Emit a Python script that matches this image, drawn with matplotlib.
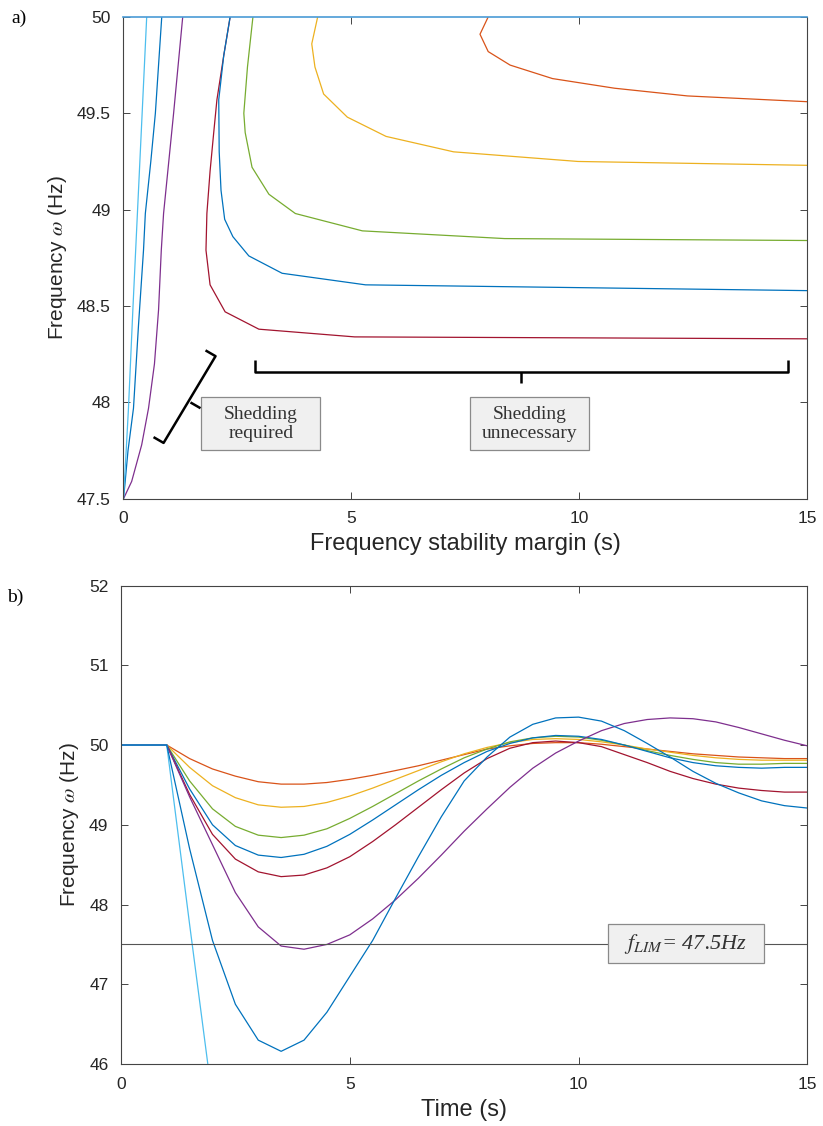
import matplotlib
matplotlib.use('Agg')
import matplotlib.pyplot as plt
from matplotlib.patches import Rectangle

plt.rcParams['font.family'] = ['Liberation Sans', 'DejaVu Sans']
plt.rcParams['mathtext.fontset'] = 'stix'

# MATLAB default colours
c_orange = '#D95319'
c_yellow = '#EDB120'
c_green = '#77AC30'
c_blue = '#0072BD'
c_red = '#A2142F'
c_purple = '#7E2F8E'
c_lblue = '#4DBEEE'

# ---- panel a: frequency vs stability margin ----
a_lblue_x = [0, 0.06, 0.11, 0.21, 0.31, 0.41, 0.51]
a_lblue_y = [47.5, 47.75, 47.97, 48.5, 49.0, 49.5, 50.0]
a_blue1_x = [0, 0.03, 0.1, 0.22, 0.33, 0.44, 0.48, 0.6, 0.7, 0.84]
a_blue1_y = [47.5, 47.57, 47.75, 47.97, 48.4, 48.79, 48.98, 49.25, 49.5, 50.0]
a_purple_x = [0, 0.18, 0.4, 0.55, 0.68, 0.77, 0.83, 0.88, 1.1, 1.3]
a_purple_y = [47.5, 47.59, 47.78, 47.97, 48.2, 48.48, 48.79, 48.98, 49.5, 50.0]
a_red_x = [2.34, 2.2, 2.05, 1.98, 1.9, 1.83, 1.81, 1.9, 2.23, 2.97, 5.07, 15]
a_red_y = [50, 49.8, 49.57, 49.4, 49.2, 48.98, 48.79, 48.61, 48.47, 48.38, 48.34, 48.33]
a_blue2_x = [2.34, 2.2, 2.09, 2.1, 2.14, 2.22, 2.4, 2.75, 3.48, 5.31, 15]
a_blue2_y = [50, 49.8, 49.57, 49.3, 49.1, 48.95, 48.86, 48.76, 48.67, 48.61, 48.58]
a_green_x = [2.84, 2.72, 2.64, 2.67, 2.82, 3.19, 3.77, 5.24, 8.36, 15]
a_green_y = [50, 49.74, 49.5, 49.4, 49.22, 49.08, 48.98, 48.89, 48.85, 48.84]
a_yellow_x = [4.26, 4.13, 4.2, 4.39, 4.91, 5.76, 7.24, 9.97, 15]
a_yellow_y = [50, 49.86, 49.74, 49.6, 49.48, 49.38, 49.3, 49.25, 49.23]
a_orange_x = [8.0, 7.82, 8.0, 8.48, 9.41, 10.77, 12.37, 15]
a_orange_y = [50, 49.91, 49.82, 49.75, 49.68, 49.63, 49.59, 49.56]

# ---- panel b: frequency vs time ----
t = [0, 1, 1.5, 2, 2.5, 3, 3.5, 4, 4.5, 5, 5.5, 6, 6.5, 7, 7.5, 8,
     8.5, 9, 9.5, 10, 10.5, 11, 11.5, 12, 12.5, 13, 13.5, 14, 14.5, 15]
f_orange = [50, 50, 49.83, 49.7, 49.61, 49.54, 49.51, 49.51, 49.53, 49.57, 49.62, 49.68, 49.74, 49.81, 49.88,
            49.95, 49.99, 50.02, 50.03, 50.03, 50.01, 49.98, 49.95, 49.92, 49.89, 49.87, 49.85, 49.84, 49.83, 49.83]
f_yellow = [50, 50, 49.72, 49.49, 49.34, 49.25, 49.22, 49.23, 49.28, 49.36, 49.46, 49.57, 49.68, 49.79, 49.89,
            49.97, 50.03, 50.07, 50.08, 50.07, 50.04, 50.0, 49.95, 49.91, 49.87, 49.84, 49.82, 49.81, 49.81, 49.81]
f_green = [50, 50, 49.55, 49.2, 48.98, 48.87, 48.84, 48.87, 48.95, 49.08, 49.23, 49.39, 49.55, 49.7, 49.84,
           49.95, 50.04, 50.09, 50.11, 50.1, 50.06, 50.0, 49.93, 49.87, 49.82, 49.78, 49.76, 49.76, 49.77, 49.77]
f_blue = [50, 50, 49.45, 49.0, 48.74, 48.62, 48.59, 48.63, 48.73, 48.88, 49.06, 49.25, 49.44, 49.62, 49.78,
          49.92, 50.02, 50.09, 50.12, 50.11, 50.07, 50.0, 49.92, 49.84, 49.78, 49.74, 49.72, 49.71, 49.72, 49.72]
f_red = [50, 50, 49.38, 48.88, 48.57, 48.41, 48.35, 48.37, 48.46, 48.6, 48.79, 49.0, 49.22, 49.44, 49.65,
         49.83, 49.96, 50.03, 50.05, 50.03, 49.98, 49.88, 49.78, 49.67, 49.58, 49.51, 49.46, 49.43, 49.41, 49.41]
f_purple = [50, 50, 49.35, 48.75, 48.15, 47.72, 47.48, 47.44, 47.5, 47.62, 47.82, 48.06, 48.33, 48.62, 48.92,
            49.2, 49.47, 49.71, 49.9, 50.05, 50.18, 50.27, 50.32, 50.34, 50.33, 50.29, 50.22, 50.14, 50.06, 49.99]
f_deep = [50, 50, 48.7, 47.55, 46.75, 46.3, 46.16, 46.3, 46.65, 47.1, 47.55, 48.08, 48.6, 49.1, 49.55,
          49.85, 50.1, 50.26, 50.34, 50.35, 50.3, 50.18, 50.02, 49.85, 49.67, 49.52, 49.4, 49.3, 49.24, 49.21]
t_lblue = [0, 1, 1.5, 2]
f_lblue = [50, 50, 47.75, 45.55]
f_lim = 47.5

fig = plt.figure(figsize=(8.23, 11.26), dpi=100)
axa = fig.add_axes([0.150, 0.557, 0.831, 0.428])
axb = fig.add_axes([0.147, 0.055, 0.834, 0.425])

lw = 0.9
axa.plot(a_orange_x, a_orange_y, color=c_orange, lw=lw)
axa.plot(a_yellow_x, a_yellow_y, color=c_yellow, lw=lw)
axa.plot(a_green_x, a_green_y, color=c_green, lw=lw)
axa.plot(a_red_x, a_red_y, color=c_red, lw=lw)
axa.plot(a_blue2_x, a_blue2_y, color=c_blue, lw=lw)
axa.plot(a_purple_x, a_purple_y, color=c_purple, lw=lw)
axa.plot(a_blue1_x, a_blue1_y, color=c_blue, lw=lw)
axa.plot(a_lblue_x, a_lblue_y, color=c_lblue, lw=lw)
axa.set_xlim(0, 15)
axa.set_ylim(47.5, 50)
axa.set_xticks([0, 5, 10, 15])
axa.set_yticks([47.5, 48, 48.5, 49, 49.5, 50])
axa.set_yticklabels(['47.5', '48', '48.5', '49', '49.5', '50'])
axa.set_xlabel('Frequency stability margin (s)', fontsize=17, color='#262626', labelpad=5)
axa.set_ylabel(r'Frequency $\omega$ (Hz)', fontsize=15, color='#262626', labelpad=6)

# brackets
k = dict(color='black', lw=1.8, solid_capstyle='butt')
axa.plot([0.66, 0.88, 2.02, 1.80], [47.82, 47.79, 48.24, 48.27], **k)
axa.plot([1.47, 1.69], [48.0, 47.97], **k)
axa.plot([2.89, 2.89, 14.57, 14.57], [48.22, 48.16, 48.16, 48.22], **k)
axa.plot([8.73, 8.73], [48.16, 48.10], **k)

bx = dict(facecolor='#f0f0f0', edgecolor='#8a8a8a', lw=0.9)
axa.add_patch(Rectangle((1.71, 47.755), 2.6, 0.271, **bx))
axa.add_patch(Rectangle((7.60, 47.755), 2.62, 0.271, **bx))
axa.text(3.01, 47.888, 'Shedding\nrequired', ha='center', va='center', fontsize=14,
         family='Liberation Serif', color='#333333', linespacing=1.2)
axa.text(8.91, 47.888, 'Shedding\nunnecessary', ha='center', va='center', fontsize=14,
         family='Liberation Serif', color='#333333', linespacing=1.2)

axb.plot(t, f_orange, color=c_orange, lw=lw)
axb.plot(t, f_yellow, color=c_yellow, lw=lw)
axb.plot(t, f_green, color=c_green, lw=lw)
axb.plot(t, f_blue, color=c_blue, lw=lw)
axb.plot(t, f_red, color=c_red, lw=lw)
axb.plot(t, f_purple, color=c_purple, lw=lw)
axb.plot(t_lblue, f_lblue, color=c_lblue, lw=lw)
axb.plot(t, f_deep, color=c_blue, lw=lw)
axb.axhline(f_lim, color='#555555', lw=0.8)
axb.add_patch(Rectangle((10.65, 47.27), 3.4, 0.48, zorder=3, **bx))
axb.text(12.35, 47.5, r'$f_{LIM}$= 47.5Hz', ha='center', va='center', fontsize=16,
         family='Liberation Serif', style='italic', color='#333333', zorder=4)
axb.set_xlim(0, 15)
axb.set_ylim(46, 52)
axb.set_xticks([0, 5, 10, 15])
axb.set_yticks([46, 47, 48, 49, 50, 51, 52])
axb.set_xlabel('Time (s)', fontsize=17, color='#262626', labelpad=5)
axb.set_ylabel(r'Frequency $\omega$ (Hz)', fontsize=15, color='#262626', labelpad=6)

for ax in (axa, axb):
    ax.tick_params(direction='in', top=True, right=True, length=5, width=0.6,
                   labelsize=12.5, colors='#262626')
    ax.tick_params(axis='x', pad=9)
    ax.tick_params(axis='y', pad=9)
    for s in ax.spines.values():
        s.set_color('#444444')
        s.set_linewidth(0.8)
axa.spines['top'].set_color('#4a9bd6')
axa.spines['top'].set_linewidth(1.2)

fig.text(0.014, 0.980, 'a)', fontsize=14, family='Liberation Serif')
fig.text(0.008, 0.465, 'b)', fontsize=14, family='Liberation Serif')

fig.savefig('out.png', dpi=100)
